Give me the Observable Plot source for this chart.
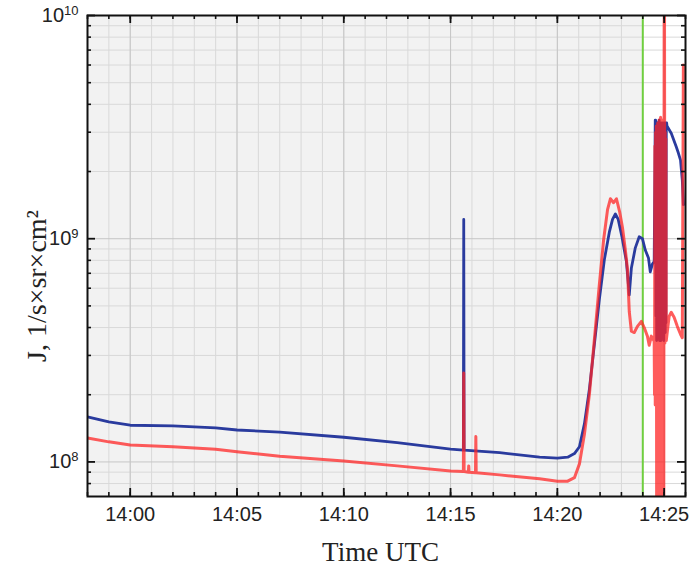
<!DOCTYPE html>
<html><head><meta charset="utf-8">
<script src="https://cdn.jsdelivr.net/npm/d3@7"></script>
<script src="https://cdn.jsdelivr.net/npm/@observablehq/plot@0.6"></script>
<style>body{margin:0;background:#fff;}</style>
</head><body><div id="chart"></div>
<script>
// ---- axis settings ----
const xStart = "13:58:00", xEnd = "14:26:00";
const xMajorLabels = ["14:00","14:05","14:10","14:15","14:20","14:25"];
const yMin = 7e7, yMax = 1e10;
const yMajor = [1e8, 1e9, 1e10];
const yMinor = [8e7, 9e7, 2e8, 3e8, 4e8, 5e8, 6e8, 7e8, 8e8, 9e8, 2e9, 3e9, 4e9, 5e9, 6e9, 7e9, 8e9, 9e9];
const greenTime = "14:24:00";
const xTitle = "Time UTC";
const yTitle = "J, 1/s×sr×cm²";

// ---- blue series ----
const blueTimeA = ["13:58:00","13:59:00","14:00:00","14:02:00","14:04:00","14:05:00","14:07:00","14:10:00","14:12:30","14:15:00","14:15:36","14:15:37","14:15:38","14:17:18","14:19:10","14:20:00","14:20:29","14:20:48","14:21:02","14:21:16","14:21:30","14:21:44","14:21:58","14:22:12","14:22:26","14:22:35","14:22:43","14:22:51","14:23:02","14:23:14","14:23:22","14:23:28","14:23:39","14:23:50","14:23:59","14:24:07","14:24:16","14:24:21","14:24:27","14:24:32","14:24:35"];
const blueJA = [1.59e8,1.51e8,1.46e8,1.45e8,1.42e8,1.39e8,1.36e8,1.29e8,1.22e8,1.14e8,1.13e8,1.22e9,1.13e8,1.10e8,1.05e8,1.04e8,1.05e8,1.09e8,1.17e8,1.48e8,2.12e8,3.36e8,5.35e8,8.05e8,1.07e9,1.22e9,1.29e9,1.22e9,1.01e9,7.9e8,5.6e8,7.4e8,9.1e8,1.02e9,1.0e9,8.9e8,8.2e8,7.1e8,7.7e8,7.9e8,3.4e9];
const blueBurstStart = "14:24:36"; // one reading per second
const blueBurstJ = [3.4e9,4.5e8,3.2e9,3.5e8,3.3e9,3.8e8,3.3e9,3.6e8,3.2e9,4.0e8,3.4e9,3.5e8,3.3e9,3.7e8,3.2e9,3.5e8,3.3e9,4.0e8,3.2e9,3.6e8,3.3e9,3.8e8,3.2e9,3.5e8,3.3e9,4.0e8,3.2e9,3.8e8,3.3e9,4.2e8,3.2e9,3.3e9,3.2e9];
const blueTimeB = ["14:25:20","14:25:34","14:25:40","14:25:46","14:25:51","14:25:54"];
const blueJB = [2.97e9,2.58e9,2.42e9,2.25e9,1.83e9,1.42e9];

// ---- red series ----
const redTimeA = ["13:58:00","13:59:00","14:00:00","14:02:00","14:04:00","14:05:00","14:07:00","14:10:00","14:12:30","14:15:00","14:15:36","14:15:37","14:15:38","14:15:50","14:15:51","14:15:52","14:16:10","14:16:11","14:16:12","14:17:18","14:19:10","14:20:00","14:20:29","14:20:48","14:21:02","14:21:16","14:21:30","14:21:44","14:21:58","14:22:10","14:22:21","14:22:29","14:22:38","14:22:46","14:22:55","14:23:03","14:23:11","14:23:17","14:23:22","14:23:28","14:23:36","14:23:45","14:23:56","14:24:04","14:24:13","14:24:18","14:24:24","14:24:32"];
const redJA = [1.28e8,1.23e8,1.19e8,1.17e8,1.14e8,1.11e8,1.06e8,1.01e8,9.6e7,9.1e7,9.05e7,2.5e8,9.05e7,9.0e7,9.6e7,9.0e7,8.95e7,1.3e8,8.95e7,8.75e7,8.4e7,8.2e7,8.2e7,8.5e7,9.8e7,1.33e8,2.01e8,3.54e8,6.24e8,9.9e8,1.35e9,1.51e9,1.45e9,1.51e9,1.32e9,1.12e9,8.9e8,7.3e8,4.72e8,3.85e8,3.8e8,4.05e8,4.26e8,4.0e8,3.66e8,3.33e8,3.66e8,3.47e8];
const redBurstStart = "14:24:33"; // one reading per second
const redBurstJ = [2.0e8,2.6e9,1.8e8,3.0e9,3.3e8,3.2e9,5.0e7,3.1e9,3.4e8,3.3e9,4.0e7,3.0e9,3.5e8,3.4e9,6.0e7,3.2e9,3.3e8,3.5e9,5.0e7,3.1e9,3.6e8,3.4e9,4.5e7,3.3e9,3.4e8,3.2e9,5.5e7,9.0e9,1.2e10,3.4e8,3.0e9,3.6e8,2.8e9,3.5e8];
const redTimeB = ["14:25:14","14:25:20","14:25:28","14:25:37","14:25:46","14:25:51","14:25:54"];
const redJB = [4.49e8,4.68e8,4.45e8,4.05e8,3.73e8,3.6e8,6.0e9];

// ---- build ----
const T = s => { const [h,m,sec] = s.split(":").map(Number); return new Date(Date.UTC(2020,0,1,h,m,sec||0)); };
const addSec = (s, i) => new Date(T(s).getTime() + i * 1000);
const pairs = (ts, js) => ts.map((t, i) => ({t: T(t), j: js[i]}));
const burst = (s, js) => js.map((j, i) => ({t: addSec(s, i), j}));
const blue = [...pairs(blueTimeA, blueJA), ...burst(blueBurstStart, blueBurstJ), ...pairs(blueTimeB, blueJB)];
const red = [...pairs(redTimeA, redJA), ...burst(redBurstStart, redBurstJ), ...pairs(redTimeB, redJB)];

const W = 689, H = 566, mL = 87, mR = 4, mT = 15, mB = 70;
const innerW = W - mL - mR, innerH = H - mT - mB;
const xMinor = d3.utcMinute.range(T(xStart), d3.utcMinute.offset(T(xEnd), 1));
const xMaj = xMajorLabels.map(s => T(s + ":00"));
const ink = "#111";
const serif = "'Liberation Serif', 'Times New Roman', serif";

const chart = Plot.plot({
  width: W, height: H, marginLeft: mL, marginRight: mR, marginTop: mT, marginBottom: mB,
  x: {type: "utc", domain: [T(xStart), T(xEnd)]},
  y: {type: "log", domain: [yMin, yMax]},
  style: {fontFamily: "'Liberation Sans', Arial, sans-serif", background: "white", color: "#222"},
  marks: [
    Plot.frame({fill: "#f2f2f2", stroke: null}),
    Plot.rect([0], {x1: () => T(greenTime), x2: () => T(xEnd), fill: "white"}),
    Plot.ruleX(xMinor, {stroke: "#d9d9d9", strokeWidth: 1}),
    Plot.ruleY(yMinor, {stroke: "#d9d9d9", strokeWidth: 1}),
    Plot.ruleX(xMaj, {stroke: "#c6c6c6", strokeWidth: 1}),
    Plot.ruleY(yMajor, {stroke: "#c6c6c6", strokeWidth: 1}),
    Plot.ruleX([T(greenTime)], {stroke: "#6fcf3f", strokeWidth: 2}),
    Plot.line(blue, {x: "t", y: "j", stroke: "#2a3b9e", strokeWidth: 2.8, clip: true}),
    Plot.line(red, {x: "t", y: "j", stroke: "#ff2626", strokeOpacity: 0.75, strokeWidth: 3, clip: true}),
    Plot.frame({stroke: ink, strokeWidth: 2}),
    // inward ticks: bottom / top
    Plot.tickX(xMinor, {insetTop: innerH - 4, stroke: ink, strokeWidth: 1.6}),
    Plot.tickX(xMaj, {insetTop: innerH - 8, stroke: ink, strokeWidth: 1.8}),
    Plot.tickX(xMinor, {insetBottom: innerH - 4, stroke: ink, strokeWidth: 1.6}),
    Plot.tickX(xMaj, {insetBottom: innerH - 8, stroke: ink, strokeWidth: 1.8}),
    // inward ticks: left / right
    Plot.tickY(yMinor, {insetRight: innerW - 4, stroke: ink, strokeWidth: 1.6}),
    Plot.tickY(yMajor, {insetRight: innerW - 8, stroke: ink, strokeWidth: 1.8}),
    Plot.tickY(yMinor, {insetLeft: innerW - 4, stroke: ink, strokeWidth: 1.6}),
    Plot.tickY(yMajor, {insetLeft: innerW - 8, stroke: ink, strokeWidth: 1.8}),
    Plot.axisX({ticks: xMaj, tickSize: 0, tickPadding: 10, tickFormat: d3.utcFormat("%H:%M"), fontSize: 20, label: null}),
    Plot.axisY({ticks: yMajor, tickSize: 0, tickPadding: 9, tickFormat: d => "10^" + Math.round(Math.log10(d)), fontSize: 20, label: null}),
    Plot.text([yTitle], {frameAnchor: "left", textAnchor: "middle", dx: -50, dy: 30, rotate: -90, fontFamily: serif, fontSize: 28, fill: "#222"}),
    Plot.text([xTitle], {frameAnchor: "bottom", textAnchor: "middle", lineAnchor: "bottom", dx: -6, dy: 64, fontFamily: serif, fontSize: 27, fill: "#222"})
  ]
});

// superscript exponents on the y tick labels
chart.querySelectorAll('g[aria-label="y-axis tick label"] text').forEach(t => {
  const [b, e] = t.textContent.split("^");
  if (e === undefined) return;
  t.textContent = b;
  const ts = document.createElementNS("http://www.w3.org/2000/svg", "tspan");
  ts.setAttribute("dy", "-0.55em");
  ts.setAttribute("font-size", "0.65em");
  ts.textContent = e;
  t.appendChild(ts);
});
document.getElementById("chart").appendChild(chart);
</script>
</body></html>
